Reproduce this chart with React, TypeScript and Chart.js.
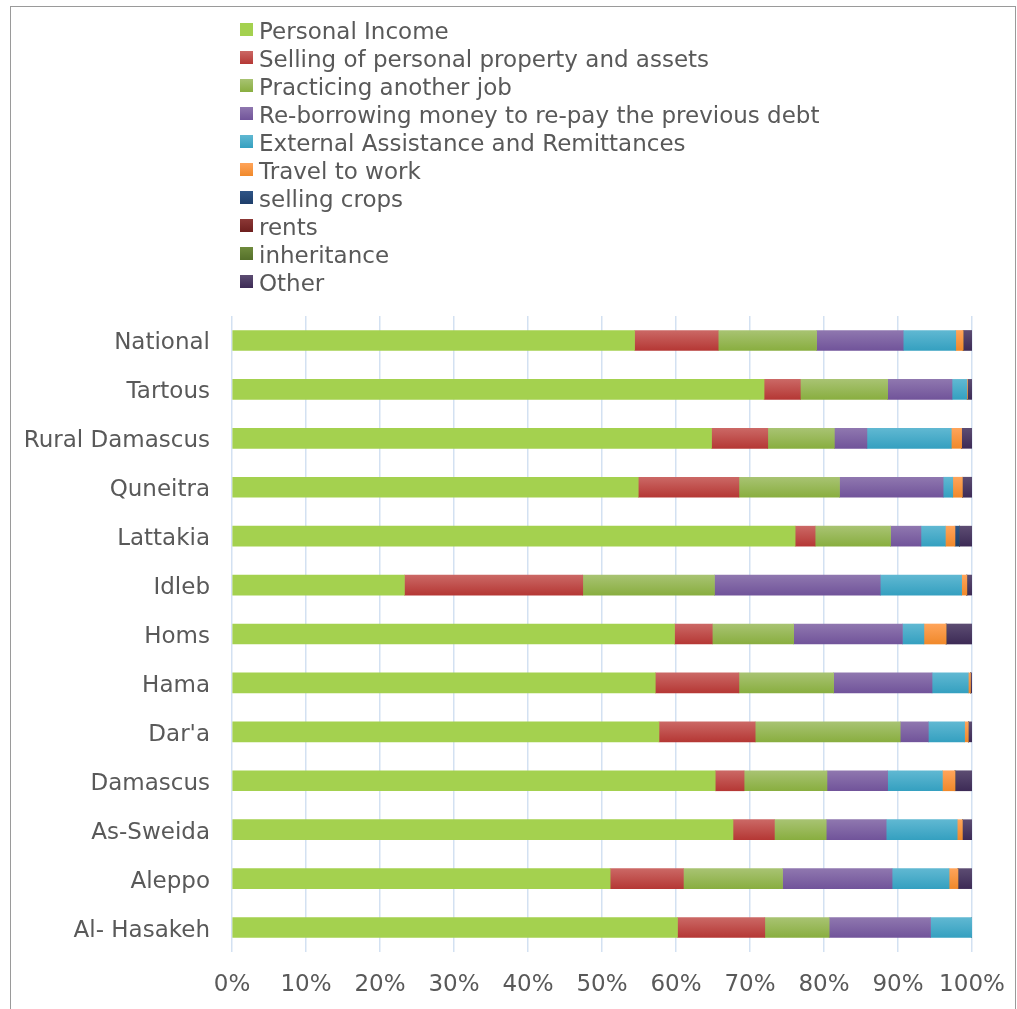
import React, { useEffect, useRef } from "react";
import { Chart, registerables } from "chart.js";

Chart.register(...registerables);

const categories = [
  "National",
  "Tartous",
  "Rural Damascus",
  "Quneitra",
  "Lattakia",
  "Idleb",
  "Homs",
  "Hama",
  "Dar'a",
  "Damascus",
  "As-Sweida",
  "Aleppo",
  "Al- Hasakeh",
];

const personalIncome = [54.4, 71.9, 64.8, 54.9, 76.1, 23.3, 59.8, 57.2, 57.7, 65.3, 67.7, 51.1, 60.2];
const sellingProperty = [11.3, 4.9, 7.6, 13.6, 2.7, 24.1, 5.1, 11.3, 13.0, 3.9, 5.6, 9.9, 11.8];
const anotherJob = [13.3, 11.8, 9.0, 13.6, 10.2, 17.8, 11.0, 12.8, 19.6, 11.2, 7.0, 13.4, 8.7];
const reBorrowing = [11.7, 8.7, 4.4, 14.0, 4.1, 22.4, 14.7, 13.3, 3.8, 8.2, 8.1, 14.8, 13.7];
const externalAssistance = [7.1, 2.0, 11.4, 1.3, 3.3, 11.0, 2.9, 4.9, 4.9, 7.4, 9.6, 7.7, 5.6];
const travelToWork = [1.0, 0.1, 1.4, 1.3, 1.3, 0.7, 3.0, 0.3, 0.5, 1.7, 0.7, 1.2, 0];
const sellingCrops = [0, 0, 0, 0, 0.6, 0, 0, 0, 0, 0, 0, 0, 0];
const rents = [0, 0, 0, 0, 0, 0, 0, 0, 0, 0, 0, 0, 0];
const inheritance = [0, 0, 0, 0, 0, 0, 0, 0, 0, 0, 0, 0, 0];
const other = [1.2, 0.6, 1.4, 1.3, 1.7, 0.7, 3.5, 0.2, 0.5, 2.3, 1.3, 1.9, 0];

const xTicks = [0, 10, 20, 30, 40, 50, 60, 70, 80, 90, 100];

const seriesNames = [
  "Personal Income",
  "Selling of personal property and assets",
  "Practicing another job",
  "Re-borrowing money to re-pay the previous debt",
  "External Assistance and Remittances",
  "Travel to work",
  "selling crops",
  "rents",
  "inheritance",
  "Other",
];
const seriesValues = [
  personalIncome,
  sellingProperty,
  anotherJob,
  reBorrowing,
  externalAssistance,
  travelToWork,
  sellingCrops,
  rents,
  inheritance,
  other,
];
// [top colour, bottom colour]
const seriesColors: [string, string][] = [
  ["#A4D14F", "#A4D14F"],
  ["#CB6865", "#B53835"],
  ["#A8C372", "#89AE40"],
  ["#8F77AF", "#71549A"],
  ["#60B8D2", "#35A0C0"],
  ["#FFA45A", "#F0892B"],
  ["#2F5587", "#1E3E6A"],
  ["#8C3836", "#6E1F1E"],
  ["#6F8B3D", "#55702A"],
  ["#5C4C72", "#3D2B56"],
];

const FONT = "DejaVu Sans, Verdana, sans-serif";
const TEXT = "#595959";

function grad(c: CanvasRenderingContext2D, y0: number, y1: number, col: [string, string]) {
  if (col[0] === col[1] || !isFinite(y0) || !isFinite(y1)) return col[0];
  const g = c.createLinearGradient(0, y0, 0, y1);
  g.addColorStop(0, col[0]);
  g.addColorStop(1, col[1]);
  return g;
}

const legendPlugin = {
  id: "vertLegend",
  afterDraw(chart: any) {
    const c: CanvasRenderingContext2D = chart.ctx;
    c.save();
    c.font = `23px ${FONT}`;
    c.textBaseline = "alphabetic";
    c.textAlign = "left";
    seriesNames.forEach((name, i) => {
      const top = 23 + 28 * i;
      c.fillStyle = grad(c, top, top + 13, seriesColors[i]) as any;
      c.fillRect(240, top, 13, 13);
      c.fillStyle = TEXT;
      c.fillText(name, 259, 39.3 + 28 * i);
    });
    c.restore();
  },
};

export default function App() {
  const ref = useRef<HTMLCanvasElement | null>(null);

  useEffect(() => {
    if (!ref.current) return;
    const datasets = seriesNames.map((name, i) => ({
      label: name,
      data: seriesValues[i],
      backgroundColor: (ctx: any) => {
        const chart = ctx.chart;
        const ys = chart.scales && chart.scales.y;
        if (!ys || ctx.type !== "data") return seriesColors[i][0];
        const yc = ys.getPixelForValue(ctx.dataIndex);
        return grad(chart.ctx, yc - 10, yc + 10, seriesColors[i]);
      },
      borderWidth: 0,
      barThickness: 20,
    }));

    let chart: any = null;
    try {
      chart = new Chart(ref.current, {
        type: "bar",
        data: { labels: categories, datasets },
        options: {
          indexAxis: "y",
          animation: false,
          responsive: false,
          maintainAspectRatio: false,
          devicePixelRatio: 1,
          layout: { padding: { left: 10, top: 316, right: 45, bottom: 0 } },
          plugins: {
            legend: { display: false },
            tooltip: { enabled: false },
            title: { display: false },
          },
          scales: {
            x: {
              stacked: true,
              min: 0,
              max: 100,
              afterFit: (s: any) => {
                s.height = 57;
                s.paddingLeft = 0;
                s.paddingRight = 0;
              },
              afterBuildTicks: (s: any) => {
                s.ticks = xTicks.map((v) => ({ value: v }));
              },
              ticks: {
                padding: 19,
                color: TEXT,
                font: { family: FONT, size: 23 },
                callback: (v: any) => `${v}%`,
                maxRotation: 0,
                autoSkip: false,
              },
              grid: { color: "#D3E1F2", lineWidth: 1.5, drawTicks: false },
              border: { display: false },
            },
            y: {
              stacked: true,
              afterFit: (s: any) => {
                s.width = 222;
                s.paddingTop = 0;
                s.paddingBottom = 0;
              },
              ticks: {
                padding: 22,
                color: TEXT,
                font: { family: FONT, size: 23, lineHeight: "6px" },
                autoSkip: false,
                callback: function (this: any, v: any) {
                  return ["", categories[v]];
                },
              },
              grid: { display: false, drawTicks: false },
              border: { display: false },
            },
          },
        },
        plugins: [legendPlugin],
      } as any);
      chart.update();
    } catch (e) {
      console.error(e);
    }
    return () => {
      if (chart) chart.destroy();
    };
  }, []);

  return (
    <div
      style={{
        position: "absolute",
        left: 0,
        top: 0,
        width: 1017,
        height: 1009,
        overflow: "hidden",
        background: "#fff",
      }}
    >
      <div
        style={{
          position: "absolute",
          left: 10,
          top: 6,
          width: 1006,
          height: 1100,
          border: "1px solid #9A9A9A",
          boxSizing: "border-box",
        }}
      />
      <canvas
        ref={ref}
        width={1017}
        height={1009}
        style={{ position: "absolute", left: 0, top: 0, width: 1017, height: 1009 }}
      />
    </div>
  );
}
